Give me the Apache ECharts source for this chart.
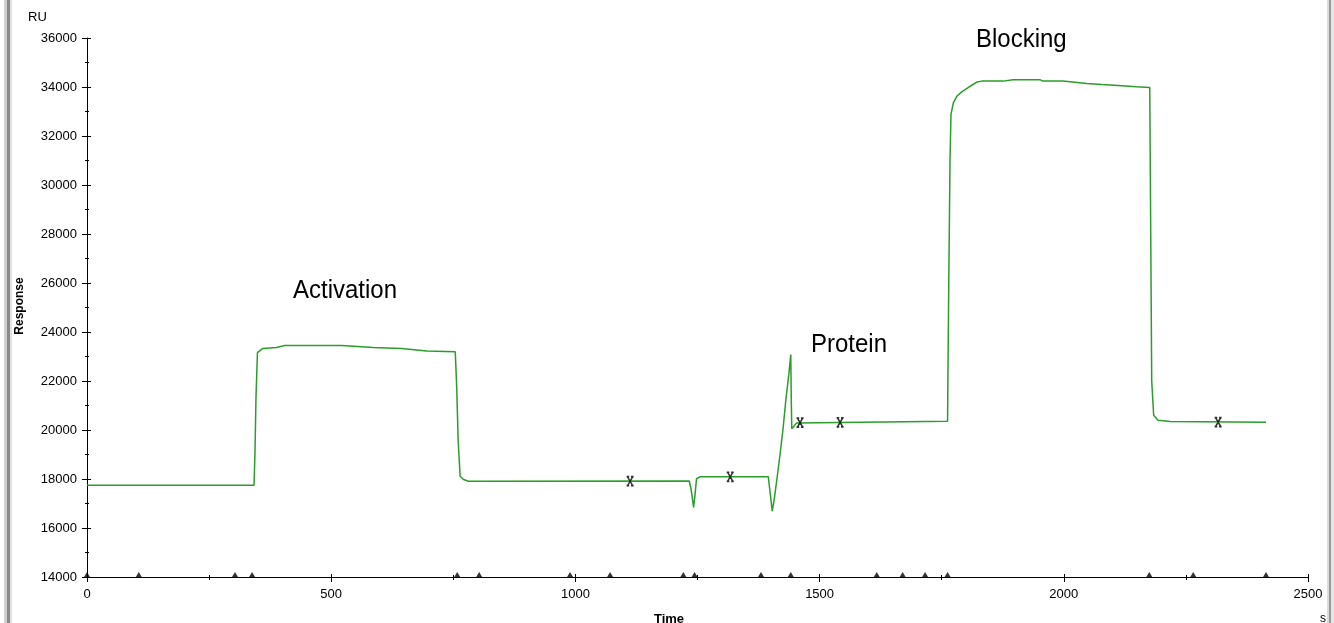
<!DOCTYPE html>
<html>
<head>
<meta charset="utf-8">
<script src="https://cdn.jsdelivr.net/npm/echarts@6/dist/echarts.min.js"></script>
<style>
html,body{margin:0;padding:0;background:#fff;}
#chart{width:1334px;height:623px;}
</style>
</head>
<body>
<div id="chart"></div>
<script>
// Sensorgram data (time in s, response in RU)
var times = [0, 342, 344, 346, 349, 353, 360, 388, 405, 522, 586, 644, 696, 754, 757, 760, 764, 771, 781, 1233,
  1237, 1242, 1245, 1248, 1255, 1395, 1398, 1403, 1407, 1413, 1419, 1425, 1431, 1437, 1441, 1442, 1443, 1446, 1453, 1762,
  1764, 1767, 1769, 1774, 1781, 1791, 1808, 1822, 1832, 1849, 1876, 1896, 1951, 1957, 1998, 2047, 2078, 2111, 2149, 2176,
  2178, 2180, 2184, 2193, 2218, 2414];
var responses = [17750, 17750, 19135, 21330, 23160, 23220, 23330, 23370, 23450, 23450, 23370, 23330, 23220, 23190, 21740, 19540, 18110, 17980, 17910, 17920,
  17570, 16840, 17370, 18010, 18090, 18090, 17570, 16690, 17160, 18060, 19000, 20020, 21250, 22270, 23080, 21250, 20050, 20100, 20290, 20360,
  25000, 31000, 32880, 33360, 33620, 33800, 34030, 34200, 34240, 34240, 34240, 34300, 34300, 34240, 34240, 34140, 34100, 34060, 34010, 33980,
  28000, 22000, 20600, 20400, 20350, 20320];
// event triangles on time axis
var eventTimes = [0, 106, 303, 338, 758, 803, 989, 1071, 1221, 1244, 1380, 1441, 1617, 1670, 1716, 1762, 2175, 2265, 2414];
// report point flags
var flagTimes = [1112, 1317, 1460, 1542, 2316];
var flagValues = [17910, 18090, 20300, 20310, 20320];
// phase labels
var phaseNames = ['Activation', 'Protein', 'Blocking'];
var yMin = 14000, yMax = 36000, yStep = 2000;
var xMin = 0, xMax = 2500, xStep = 500;

var curve = times.map(function (t, i) { return [t, responses[i]]; });
var events = eventTimes.map(function (t) { return [t, yMin]; });
var flags = flagTimes.map(function (t, i) { return [t, flagValues[i]]; });

var FONT = '"Liberation Sans", Arial, sans-serif';
var chart = echarts.init(document.getElementById('chart'), null, {renderer: 'canvas'});
var plain = function (v) { return String(v); };

var baseX = {
  type: 'value', min: xMin, max: xMax, interval: xStep, position: 'bottom',
  splitLine: {show: false}
};
var baseY = {
  type: 'value', min: yMin, max: yMax, interval: yStep, position: 'left',
  splitLine: {show: false}
};

chart.setOption({
  animation: false,
  backgroundColor: '#ffffff',
  grid: {left: 87, right: 26, top: 38, bottom: 46, containLabel: false},
  xAxis: [
    Object.assign({}, baseX, {
      axisLine: {onZero: false, lineStyle: {color: '#000', width: 1}},
      axisTick: {show: true, inside: false, length: 5, lineStyle: {color: '#000'}},
      minorTick: {show: true, splitNumber: 2, length: 3, lineStyle: {color: '#000'}},
      axisLabel: {color: '#000', fontFamily: FONT, fontSize: 13, margin: 11, formatter: plain}
    }),
    Object.assign({}, baseX, {
      axisLine: {show: false, onZero: false},
      axisTick: {show: true, inside: true, length: 3, lineStyle: {color: '#000'}},
      minorTick: {show: true, splitNumber: 2, length: 2, lineStyle: {color: '#000'}},
      axisLabel: {show: false}
    })
  ],
  yAxis: [
    Object.assign({}, baseY, {
      axisLine: {show: true, onZero: false, lineStyle: {color: '#000', width: 1}},
      axisTick: {show: true, inside: false, length: 5, lineStyle: {color: '#000'}},
      minorTick: {show: true, splitNumber: 2, length: 2, lineStyle: {color: '#000'}},
      axisLabel: {color: '#000', fontFamily: FONT, fontSize: 13, margin: 10, formatter: plain}
    }),
    Object.assign({}, baseY, {
      axisLine: {show: false, onZero: false},
      axisTick: {show: true, inside: true, length: 4, lineStyle: {color: '#000'}},
      minorTick: {show: true, splitNumber: 2, length: 2, lineStyle: {color: '#000'}},
      axisLabel: {show: false}
    })
  ],
  series: [
    {
      type: 'line', data: curve, xAxisIndex: 0, yAxisIndex: 0,
      showSymbol: false, symbol: 'none',
      lineStyle: {color: '#2a9d2a', width: 1.5},
      z: 3
    },
    {
      type: 'scatter', data: events, xAxisIndex: 0, yAxisIndex: 0,
      symbol: 'triangle', symbolSize: [6, 5], symbolOffset: [0, -2.5],
      itemStyle: {color: '#000'}, clip: false, z: 5, silent: true
    },
    {
      type: 'scatter', data: flags, xAxisIndex: 0, yAxisIndex: 0,
      symbol: 'path://M1,0L7,10M7,0L1,10M0,0H3M5,0H8M0,10H3M5,10H8', symbolSize: [7, 9],
      itemStyle: {color: 'rgba(0,0,0,0)', borderColor: '#000', borderWidth: 1.6},
      clip: false, z: 6, silent: true
    }
  ],
  graphic: [
    {type: 'rect', shape: {x: 4, y: 0, width: 3, height: 623}, style: {fill: '#d0d0d0'}, silent: true},
    {type: 'rect', shape: {x: 7, y: 0, width: 3, height: 623}, style: {fill: '#8a8a8a'}, silent: true},
    {type: 'rect', shape: {x: 10, y: 0, width: 2, height: 623}, style: {fill: '#e2e2e2'}, silent: true},
    {type: 'rect', shape: {x: 1327, y: 0, width: 2, height: 623}, style: {fill: '#dcdcdc'}, silent: true},
    {type: 'rect', shape: {x: 1329, y: 0, width: 2, height: 623}, style: {fill: '#9a9a9a'}, silent: true},
    {type: 'rect', shape: {x: 1331, y: 0, width: 3, height: 623}, style: {fill: '#e6e6e6'}, silent: true},
    {type: 'text', x: 28, y: 17, style: {text: 'RU', font: '13px ' + FONT, fill: '#000', textVerticalAlign: 'middle'}},
    {type: 'text', x: 20, y: 306, rotation: Math.PI / 2, style: {text: 'Response', font: 'bold 12px ' + FONT, fill: '#000', textAlign: 'center', textVerticalAlign: 'middle'}},
    {type: 'text', x: 669, y: 619, style: {text: 'Time', font: 'bold 13px ' + FONT, fill: '#000', textAlign: 'center', textVerticalAlign: 'middle'}},
    {type: 'text', x: 1320, y: 619, style: {text: 's', font: '12px ' + FONT, fill: '#000', textVerticalAlign: 'middle'}},
    {type: 'text', x: 293, y: 278, scaleY: 1.08, style: {text: phaseNames[0], font: '24px ' + FONT, fill: '#000', textVerticalAlign: 'top'}},
    {type: 'text', x: 811, y: 332, scaleY: 1.08, style: {text: phaseNames[1], font: '24px ' + FONT, fill: '#000', textVerticalAlign: 'top'}},
    {type: 'text', x: 976, y: 27, scaleY: 1.08, style: {text: phaseNames[2], font: '24px ' + FONT, fill: '#000', textVerticalAlign: 'top'}}
  ]
});
</script>
</body>
</html>
